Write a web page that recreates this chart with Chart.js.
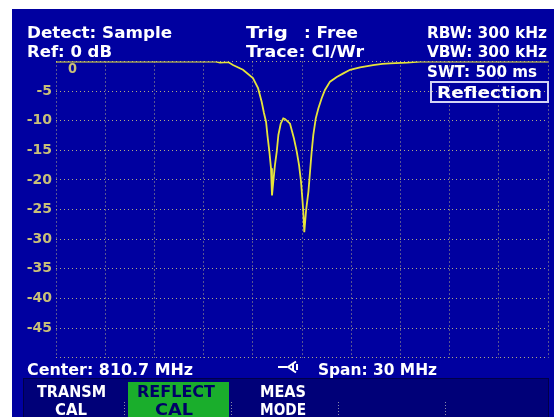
<!DOCTYPE html>
<html lang="en">
<head>
  <meta charset="UTF-8" />
  <title>Reflection sweep</title>
  <style>
    body { margin: 0; background: #ffffff; }
    canvas { display: block; }
  </style>
</head>
<body>
  <canvas id="sweep" width="554" height="417"></canvas>

  <script src="https://cdn.jsdelivr.net/npm/chart.js"></script>
  <script>
    // sweep: center 810.7 MHz, span 30 MHz
    const freqMHz = [795.7, 805.4, 805.7, 806.2, 806.49, 807.1, 807.71, 808.02, 808.24, 808.38, 808.51, 808.59,
      808.71, 808.81, 808.87, 808.95, 809.05, 809.16, 809.26, 809.4, 809.56, 809.66,
      809.97, 810.21, 810.38, 810.52, 810.64, 810.72, 810.78, 810.84, 810.95, 811.09,
      811.19, 811.29, 811.39, 811.54, 811.7, 811.9, 812.1, 812.41, 812.82, 813.22,
      813.63, 814.24, 815.03, 815.6, 816.07, 817.09, 817.9, 825.7];
    const levelDb = [0, 0, -0.2, -0.1, -0.6, -1.4, -2.8, -4.5, -6.8, -8.7, -10.2, -12.4,
      -15.2, -18, -22.6, -20.3, -17.5, -15.2, -12.4, -10.5, -9.6, -9.7,
      -10.5, -13, -15.2, -17.5, -20.3, -23.1, -25.4, -28.8, -25.1, -22,
      -18.6, -15.2, -12.4, -9.6, -7.9, -6.2, -4.8, -3.4, -2.6, -2,
      -1.4, -1, -0.6, -0.4, -0.3, -0.2, 0, 0];
    const xGridMHz = [795.7, 798.7, 801.7, 804.7, 807.7, 810.7, 813.7, 816.7, 819.7, 822.7, 825.7];
    const hiddenYLabels = [0, -50];

    const BLUE = "#0000a0";
    const TAN = "#c8bf78";
    const GRID = "#b0aa84";
    const TRACE = "#e6e43a";
    const FONT = '"DejaVu Sans"';

    function fitText(ctx, s, x, base, w, color, size) {
      ctx.save();
      ctx.font = "bold " + size + "px " + FONT;
      ctx.fillStyle = color;
      ctx.textAlign = "left";
      ctx.textBaseline = "alphabetic";
      const m = ctx.measureText(s).width;
      ctx.translate(x, base);
      ctx.scale(w / m, 1);
      ctx.fillText(s, 0, 0);
      ctx.restore();
    }

    const screenPlugin = {
      id: "screen",
      beforeDraw(chart) {
        const ctx = chart.ctx;
        ctx.save();
        ctx.fillStyle = "#ffffff";
        ctx.fillRect(0, 0, 554, 417);
        ctx.fillStyle = BLUE;
        ctx.fillRect(12, 9, 542, 408);
        ctx.restore();
      },
      beforeDatasetsDraw(chart) {
        const ctx = chart.ctx;
        const W = "#ffffff";
        // header
        fitText(ctx, "Detect: Sample", 27, 38, 145, W, 16);
        fitText(ctx, "Ref: 0 dB", 27, 56.5, 85, W, 16);
        fitText(ctx, "Trig", 246, 38, 42, W, 16);
        fitText(ctx, ": Free", 304, 38, 54, W, 16);
        fitText(ctx, "Trace: Cl/Wr", 246, 56.5, 118, W, 16);
        fitText(ctx, "RBW: 300 kHz", 427, 38, 120, W, 16);
        fitText(ctx, "VBW: 300 kHz", 427, 57, 120, W, 16);
        fitText(ctx, "SWT: 500 ms", 427, 77, 110, W, 16);

        ctx.save();
        ctx.strokeStyle = "#d4d4f4";
        ctx.lineWidth = 2;
        ctx.strokeRect(431, 82, 117, 20);
        ctx.restore();
        fitText(ctx, "Reflection", 437, 97.5, 105, W, 16);

        // ref level marker
        fitText(ctx, "0", 68, 72.5, 9, TAN, 14);

        // footer
        fitText(ctx, "Center: 810.7 MHz", 27, 375, 166, W, 16);
        fitText(ctx, "Span: 30 MHz", 318, 375, 119, W, 16);
        ctx.save();
        ctx.strokeStyle = W;
        ctx.lineWidth = 2;
        ctx.beginPath();
        ctx.moveTo(278, 367); ctx.lineTo(287, 367);
        ctx.moveTo(296, 361.5); ctx.lineTo(288, 367); ctx.lineTo(296, 372.5);
        ctx.moveTo(293, 364); ctx.lineTo(293, 370);
        ctx.moveTo(297, 364); ctx.lineTo(297, 370);
        ctx.stroke();
        ctx.restore();

        // softkey bar
        ctx.save();
        ctx.fillStyle = "#000078";
        ctx.fillRect(23, 378, 526, 39);
        ctx.strokeStyle = "#000048";
        ctx.lineWidth = 1;
        ctx.strokeRect(23.5, 378.5, 525, 40);
        ctx.fillStyle = "#1aae2c";
        ctx.fillRect(128, 382, 101, 35);
        ctx.strokeStyle = "#8a8aa8";
        ctx.setLineDash([1, 2]);
        [124.5, 231.5, 338.5, 445.5].forEach(x => {
          ctx.beginPath();
          ctx.moveTo(x, 402); ctx.lineTo(x, 416);
          ctx.stroke();
        });
        ctx.restore();
        fitText(ctx, "TRANSM", 37, 397, 69, W, 16);
        fitText(ctx, "CAL", 55, 414.5, 32, W, 16);
        fitText(ctx, "REFLECT", 137, 397, 78, "#000066", 16);
        fitText(ctx, "CAL", 155, 414.5, 38, "#000066", 16);
        fitText(ctx, "MEAS", 260, 397, 46, W, 16);
        fitText(ctx, "MODE", 260, 414.5, 46, W, 16);
      }
    };

    new Chart(document.getElementById("sweep").getContext("2d"), {
      type: "line",
      data: {
        datasets: [{
          data: freqMHz.map((f, i) => ({ x: f, y: levelDb[i] })),
          borderColor: TRACE,
          borderWidth: 1.8,
          pointRadius: 0,
          tension: 0,
          fill: false
        }]
      },
      options: {
        responsive: false,
        animation: false,
        devicePixelRatio: 1,
        layout: { padding: { left: 0, top: 61.5, right: 6, bottom: 59.3 } },
        plugins: { legend: { display: false }, tooltip: { enabled: false } },
        scales: {
          x: {
            type: "linear",
            min: xGridMHz[0],
            max: xGridMHz[xGridMHz.length - 1],
            afterBuildTicks: axis => { axis.ticks = xGridMHz.map(v => ({ value: v })); },
            ticks: { display: false },
            grid: { color: GRID, lineWidth: 1, drawTicks: false },
            border: { display: false, dash: [1, 3] }
          },
          y: {
            min: -50,
            max: 0,
            afterFit: axis => { axis.width = 56; },
            ticks: {
              stepSize: 5,
              color: TAN,
              padding: 4,
              font: { family: FONT, weight: "bold", size: 14 },
              callback: v => hiddenYLabels.includes(v) ? "" : String(v)
            },
            grid: { color: GRID, lineWidth: 1, drawTicks: false },
            border: { display: false, dash: [1, 3] }
          }
        }
      },
      plugins: [screenPlugin]
    });
  </script>
</body>
</html>
